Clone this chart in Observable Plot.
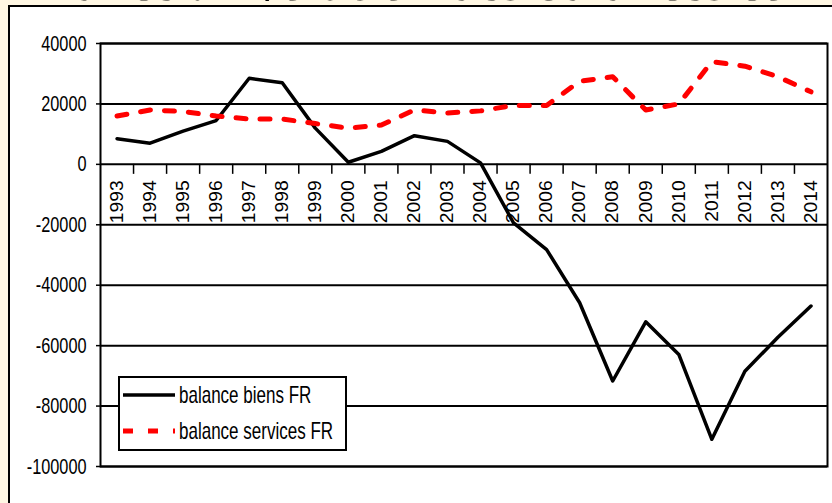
<!DOCTYPE html>
<html>
<head>
<meta charset="utf-8">
<script src="https://cdn.jsdelivr.net/npm/d3@7"></script>
<script src="https://cdn.jsdelivr.net/npm/@observablehq/plot@0.6"></script>
<style>
  html, body { margin: 0; padding: 0; background: #fff7e3; }
  #wrap { position: relative; width: 832px; height: 503px; overflow: hidden; background: #fff7e3; }
  #title { position: absolute; left: 20px; bottom: 491px; line-height: 52px; font: bold 52px "Liberation Serif", "Times New Roman", serif; white-space: nowrap; color: #000; }
  #panel { position: absolute; left: 8px; top: 5px; width: 900px; height: 600px; background: #fff; border: 2px solid #000; }
  #chart { position: absolute; left: 0; top: 0; }
  #legend { position: absolute; left: 118px; top: 376px; overflow: visible; }
</style>
</head>
<body>
<div id="wrap">
  <div id="title">France : Évolution des balances commerciales</div>
  <div id="panel"></div>
  <div id="chart"></div>
  <svg id="legend" width="229" height="75"></svg>
</div>
<script>
// ---- data ----
const years = [1993, 1994, 1995, 1996, 1997, 1998, 1999, 2000, 2001, 2002, 2003,
               2004, 2005, 2006, 2007, 2008, 2009, 2010, 2011, 2012, 2013, 2014];
const biens = [8500, 7000, 11000, 14500, 28500, 27000, 12000, 700, 4300, 9500, 7600,
               500, -19400, -28200, -45800, -71700, -52100, -62900, -91000, -68500, -57200, -46900];
const services = [16000, 18000, 17500, 16000, 15000, 15000, 13500, 12000, 13000, 18000, 17000,
                  17700, 19500, 19500, 27500, 29000, 18000, 20000, 34000, 32500, 29000, 24000];
const seriesNames = ["balance biens FR", "balance services FR"];
const yTicks = [40000, 20000, 0, -20000, -40000, -60000, -80000, -100000];

const table = years.map((y, i) => ({ year: y, biens: biens[i], services: services[i] }));
const xDomain = [years[0] - 0.5, years[years.length - 1] + 0.5];
const boundaries = years.slice(1).map(y => y - 0.5);

const plot = Plot.plot({
  width: 832,
  height: 503,
  marginLeft: 100,
  marginRight: 5,
  marginTop: 43,
  marginBottom: 37,
  style: { background: "transparent", fontFamily: "'Liberation Sans', Arial, sans-serif", color: "#000" },
  x: { domain: xDomain, axis: null },
  y: { domain: [yTicks[yTicks.length - 1], yTicks[0]], axis: null },
  marks: [
    Plot.ruleY(yTicks, { stroke: "#000", strokeWidth: 2 }),
    Plot.frame({ stroke: "#000", strokeWidth: 2 }),
    Plot.axisY({ ticks: yTicks, tickSize: 4, tickPadding: 10, fontSize: 22, tickFormat: d => String(d), strokeWidth: 1.5 }),
    Plot.ruleX(boundaries, { y1: 0, y2: 0, insetBottom: -10, stroke: "#000", strokeWidth: 1.5 }),
    Plot.text(years, { x: d => d, y: 0, text: d => String(d), rotate: -90, textAnchor: "end", dy: 16, fontSize: 18, fill: "#000" }),
    Plot.line(table, { x: "year", y: "biens", stroke: "#000", strokeWidth: 3.5 }),
    Plot.line(table, { x: "year", y: "services", stroke: "#ff0000", strokeWidth: 5, strokeDasharray: "10,14" })
  ]
});
document.getElementById("chart").appendChild(plot);

// condense the y tick labels like the reference (narrow, tall glyphs)
d3.select(plot).selectAll('g[aria-label="y-axis tick label"] text').each(function () {
  const len = this.getComputedTextLength();
  this.setAttribute("textLength", len * 0.74);
  this.setAttribute("lengthAdjust", "spacingAndGlyphs");
});
d3.select(plot).selectAll('g[aria-label="text"] text').each(function () {
  const len = this.getComputedTextLength();
  this.setAttribute("textLength", len * 1.07);
  this.setAttribute("lengthAdjust", "spacingAndGlyphs");
});

// legend
const lg = d3.select("#legend");
lg.append("rect").attr("x", 1).attr("y", 1).attr("width", 227).attr("height", 73)
  .attr("fill", "#fff").attr("stroke", "#000").attr("stroke-width", 2);
const rows = [
  { name: seriesNames[0], stroke: "#000", width: 3.5, dash: null, y: 19 },
  { name: seriesNames[1], stroke: "#ff0000", width: 5, dash: "10,15", y: 55 }
];
rows.forEach(r => {
  const l = lg.append("line").attr("x1", 5).attr("x2", 57).attr("y1", r.y).attr("y2", r.y)
    .attr("stroke", r.stroke).attr("stroke-width", r.width);
  if (r.dash) l.attr("stroke-dasharray", r.dash);
  lg.append("text")
    .attr("transform", `translate(61,${r.y}) scale(0.74,1)`)
    .attr("dy", "0.36em")
    .attr("font-family", "'Liberation Sans', Arial, sans-serif").attr("font-size", 23)
    .attr("fill", "#000").text(r.name);
});
</script>
</body>
</html>
